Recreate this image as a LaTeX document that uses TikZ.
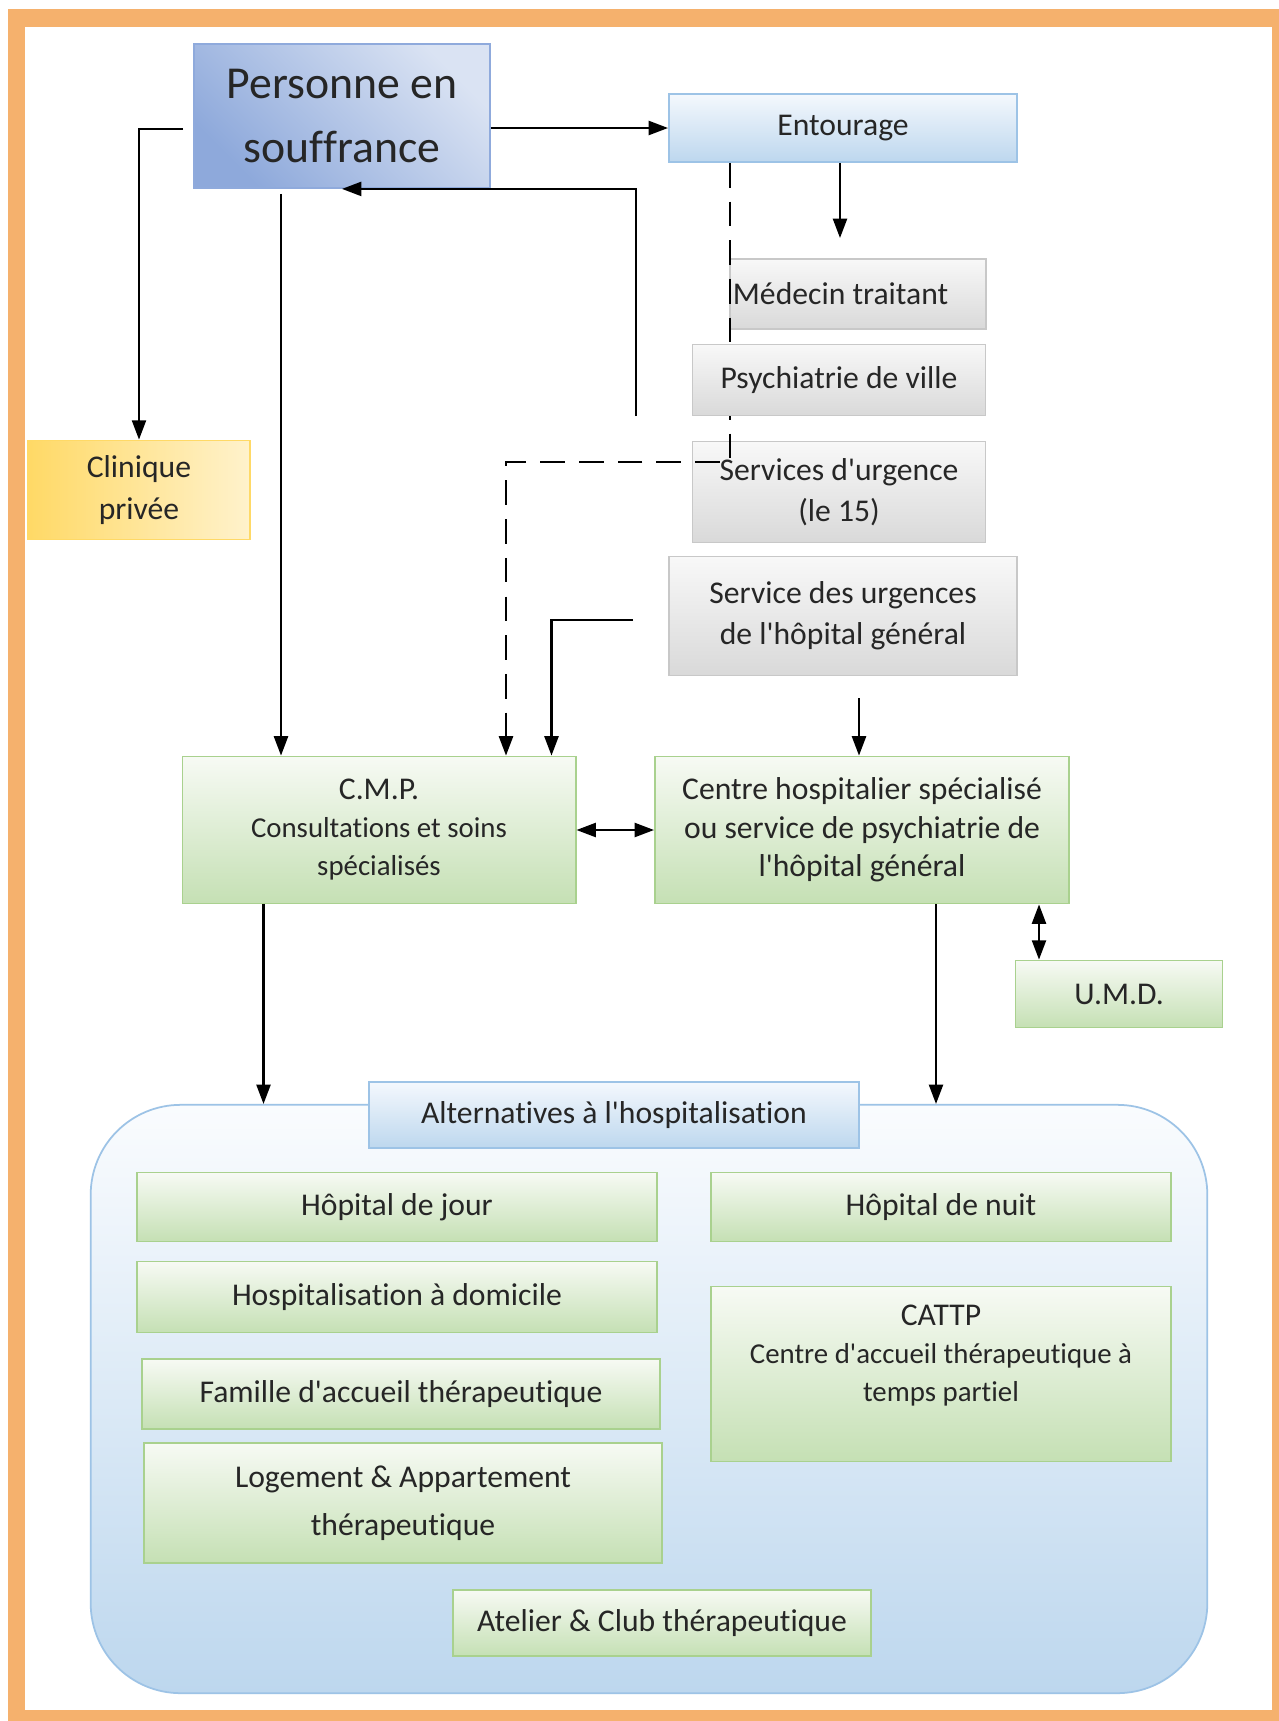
\documentclass[tikz,border=0pt]{standalone}
\usepackage{fontspec}
\setmainfont{Carlito}[Ligatures={CommonOff,TeXOff}]
\usetikzlibrary{arrows.meta,positioning,calc}
\definecolor{cadre}{HTML}{F5B16D}
\definecolor{persohaut}{HTML}{DAE3F3}
\definecolor{persobas}{HTML}{8EA9DB}
\definecolor{persobord}{HTML}{8FAADC}
\definecolor{bleuhaut}{HTML}{F4F8FD}
\definecolor{bleubas}{HTML}{BDD7EE}
\definecolor{bleubord}{HTML}{9DC3E6}
\definecolor{fondhaut}{HTML}{FAFCFE}
\definecolor{grishaut}{HTML}{F8F8F8}
\definecolor{grisbas}{HTML}{D9D9D9}
\definecolor{grisbord}{HTML}{C8C8C8}
\definecolor{verthaut}{HTML}{F7FAF4}
\definecolor{vertbas}{HTML}{C5E0B4}
\definecolor{vertbord}{HTML}{A9D18E}
\definecolor{jauneg}{HTML}{FFD966}
\definecolor{jauned}{HTML}{FFF2CC}

\begin{document}
\begin{tikzpicture}[x=0.01cm,y=-0.01cm,
    every node/.style={inner sep=0pt,align=center,text=black!85,
      font=\fontsize{9}{11.7}\selectfont},
    boite/.style={draw,line width=0.5pt},
    bleu/.style={boite,draw=bleubord,top color=bleuhaut,bottom color=bleubas},
    gris/.style={boite,draw=grisbord,top color=grishaut,bottom color=grisbas},
    vert/.style={boite,draw=vertbord,top color=verthaut,bottom color=vertbas},
    petit/.style={font=\fontsize{8.2}{10.8}\selectfont},
    fleche/.style={-{Triangle[length=5.5pt,width=4pt]},line width=0.6pt},
    dfleche/.style={{Triangle[length=5.5pt,width=4pt]}-{Triangle[length=5.5pt,width=4pt]},line width=0.6pt},
    tirets/.style={fleche,dash pattern=on 7pt off 4pt}]
    \useasboundingbox (0,0) rectangle (1279,1721);
    % cadre
    \fill[cadre] (8,9) rectangle (1279,1721);
    \fill[white] (25,27) rectangle (1272,1710);
    % alternatives
    \node[boite,draw=bleubord,top color=fondhaut,bottom color=bleubas,rounded corners=0.9cm,
      minimum width=11.16cm,minimum height=5.88cm] (alt) at (649,1399) {};
    % boites du haut
    \node[boite,draw=persobord,bottom color=persobas,top color=persohaut,shading angle=-45,
      minimum width=2.96cm,minimum height=1.44cm,font=\fontsize{13}{18}\selectfont]
      (perso) at (342,116) {Personne en\\souffrance};
    \node[bleu,minimum width=3.48cm,minimum height=0.68cm] (entour) at (843,128) {Entourage};
    \node[boite,draw=jauneg,left color=jauneg,right color=jauned,
      minimum width=2.22cm,minimum height=0.99cm,font=\fontsize{9}{12}\selectfont] (clin) at (139,490) {Clinique\\privée};
    \node[gris,minimum width=2.56cm,minimum height=0.70cm,text width=2.5cm,align=flush left,
      inner xsep=0.03cm] (medecin) at (858,294) {Médecin traitant};
    \node[gris,minimum width=2.93cm,minimum height=1.01cm] (urg15) at (839,492) {Services d'urgence\\(le 15)};
    \node[gris,minimum width=3.48cm,minimum height=1.19cm] (urghg) at (843,616) {Service des urgences\\de l'hôpital général};
    \node[vert,minimum width=3.93cm,minimum height=1.47cm,petit] (cmp) at (379,830)
      {{\fontsize{9}{11}\selectfont C.M.P.}\\Consultations et soins\\spécialisés};
    \node[vert,minimum width=4.14cm,minimum height=1.47cm,font=\fontsize{9}{11}\selectfont] (chs) at (862,830)
      {Centre hospitalier spécialisé\\ou service de psychiatrie de\\l'hôpital général};
    \node[vert,minimum width=2.07cm,minimum height=0.67cm] (umd) at (1119,994) {U.M.D.};
    % boites du bas
    \node[bleu,minimum width=4.90cm,minimum height=0.66cm] (altern) at (614,1115) {Alternatives à l'hospitalisation};
    \node[vert,minimum width=5.19cm,minimum height=0.69cm] (hjour) at (397,1207) {Hôpital de jour};
    \node[vert,minimum width=4.59cm,minimum height=0.69cm] (hnuit) at (941,1207) {Hôpital de nuit};
    \node[vert,minimum width=5.19cm,minimum height=0.71cm] (had) at (397,1297) {Hospitalisation à domicile};
    \node[vert,minimum width=5.18cm,minimum height=0.70cm] (famille) at (401,1394) {Famille d'accueil thérapeutique};
    \node[vert,minimum width=5.17cm,minimum height=1.20cm,font=\fontsize{9}{13.5}\selectfont] (logement) at (403,1503)
      {Logement \& Appartement\\thérapeutique};
    \node[vert,minimum width=4.60cm,minimum height=1.75cm,petit] (cattp) at (941,1374)
      {{\fontsize{9}{11}\selectfont CATTP}\\Centre d'accueil thérapeutique à\\temps partiel\\[1pt]};
    \node[vert,minimum width=4.18cm,minimum height=0.66cm] (atelier) at (662,1623) {Atelier \& Club thérapeutique};
    % liens
    \coordinate (d1) at (730,462);
    \coordinate (d2) at (506,462);
    \draw[tirets] (entour.south -| d1) -- (d1) -- (d2) -- (d2 |- cmp.north);
    \node[gris,minimum width=2.93cm,minimum height=0.71cm] (psyv) at (839,380) {Psychiatrie de ville};
    \coordinate (p1) at ($(perso.south)+(-61,5)$);
    \coordinate (r1) at (636,416);
    \coordinate (e1) at (840,238);
    \coordinate (u1) at (633,620);
    \coordinate (u2) at (859,698);
    \coordinate (m1) at ($(umd.north)+(-80,0)$);
    \coordinate (c1) at ($(cmp.south west)+(82,0)$);
    \coordinate (c2) at ($(chs.south)+(74,0)$);
    \draw[fleche] ($(perso.west)+(-10,13)$) -| (clin.north);
    \draw[fleche] (perso.east |- entour.west) -- (entour.west);
    \draw[fleche] (p1) -- (p1 |- cmp.north);
    \draw[fleche] (r1) |- (perso.south);
    \draw[fleche] (entour.south -| e1) -- (e1);
    \draw[fleche] (u1) -| ($(cmp.north east)+(-25,0)$);
    \draw[fleche] (u2) -- (u2 |- chs.north);
    \draw[dfleche] (cmp.east) -- (chs.west);
    \draw[dfleche] (chs.south -| m1) -- (m1);
    \draw[fleche] (c1) -- (c1 |- alt.north);
    \draw[fleche] (c2) -- (c2 |- alt.north);
\end{tikzpicture}
\end{document}
